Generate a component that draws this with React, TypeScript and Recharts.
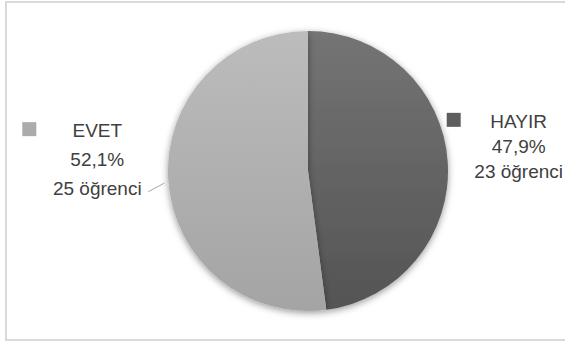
import React from 'react';
import { PieChart, Pie, Cell } from 'recharts';

const categories = ['HAYIR', 'EVET'];
const counts = [23, 25];
const percents = ['47,9%', '52,1%'];
const countLabels = ['23 öğrenci', '25 öğrenci'];

const data = categories.map((name, i) => ({
  name,
  value: counts[i],
  pct: percents[i],
  count: countLabels[i],
}));

const gradients = [
  { id: 'gHayir', top: '#747474', bottom: '#545454' },
  { id: 'gEvet', top: '#bcbcbc', bottom: '#a4a4a4' },
];
const legendColors = ['#5e5e5e', '#ababab'];

const FONT = '"Liberation Sans", Arial, sans-serif';
const RAD = Math.PI / 180;

const renderLabel = (props: any) => {
  const { cx, cy, midAngle, outerRadius, index, payload } = props;
  const cos = Math.cos(-midAngle * RAD);
  const sin = Math.sin(-midAngle * RAD);
  const ex = cx + outerRadius * cos;
  const ey = cy + outerRadius * sin;
  const right = cos >= 0;
  // text block center
  const tx = right ? ex + 71 : ex - 71;
  const ty = right ? ey - 41 : ey - 50;
  const gap = right ? 25 : 29;
  const item = payload?.payload ?? payload;
  const sq = right ? tx - 72 : tx - 75;
  return (
    <g>
      {!right && (
        <line x1={ex - 4} y1={ey + 3} x2={ex - 20} y2={ey + 11.5} stroke="#a6a6a6" strokeWidth={1} />
      )}
      <rect x={sq} y={ty - 8} width={14} height={14} fill={legendColors[index]} />
      <text x={tx} y={ty} textAnchor="middle" dominantBaseline="central" fontFamily={FONT} fontSize={19} fill="#404040">
        <tspan x={tx} dy={0}>{item.name}</tspan>
        <tspan x={tx} dy={gap}>{item.pct}</tspan>
        <tspan x={tx} dy={gap}>{item.count}</tspan>
      </text>
    </g>
  );
};

export default function App() {
  return (
    <div style={{ position: 'absolute', left: 0, top: 0, width: 565, height: 342, background: '#fff', overflow: 'hidden' }}>
      <div
        style={{
          position: 'absolute',
          left: 5,
          top: 1,
          width: 570,
          height: 340,
          border: '2px solid #d9d9d9',
          boxSizing: 'border-box',
        }}
      />
      <PieChart
        width={565}
        height={342}
        margin={{ top: 0, right: 0, bottom: 0, left: 0 }}
        style={{ position: 'absolute', left: 0, top: 0 }}
      >
        <defs>
          {gradients.map((g) => (
            <linearGradient key={g.id} id={g.id} x1="0" y1="0" x2="0" y2="1">
              <stop offset="0%" stopColor={g.top} />
              <stop offset="100%" stopColor={g.bottom} />
            </linearGradient>
          ))}
          <filter id="shadow" x="-20%" y="-20%" width="140%" height="140%">
            <feDropShadow dx="0" dy="2" stdDeviation="3.5" floodColor="#000" floodOpacity="0.4" />
          </filter>
        </defs>
        <Pie
          data={data}
          dataKey="value"
          nameKey="name"
          cx={308}
          cy={171}
          outerRadius={140}
          startAngle={90}
          endAngle={-270}
          stroke="none"
          label={renderLabel}
          labelLine={false}
          isAnimationActive={false}
          style={{ filter: 'url(#shadow)' }}
        >
          {data.map((d, i) => (
            <Cell key={d.name} fill={`url(#${gradients[i].id})`} />
          ))}
        </Pie>
      </PieChart>
    </div>
  );
}
